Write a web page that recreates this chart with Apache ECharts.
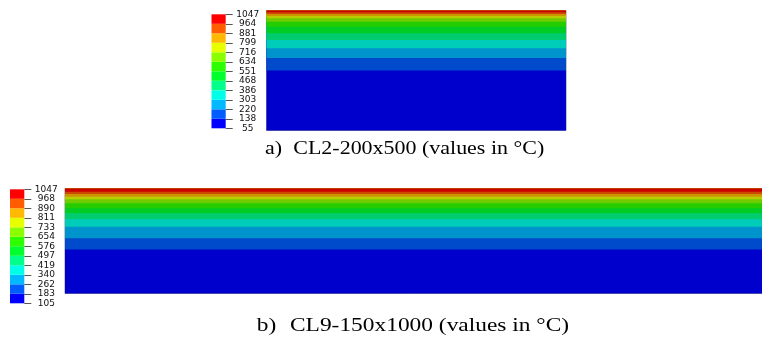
<!DOCTYPE html>
<html>
<head>
<meta charset="utf-8">
<style>
  html, body { margin: 0; padding: 0; background: #fff; }
  #chart { width: 762px; height: 340px; }
</style>
<script src="https://cdn.jsdelivr.net/npm/echarts@6/dist/echarts.min.js"></script>
</head>
<body>
<div id="chart"></div>
<script>
// Contour levels of the two sections (°C), listed from hottest to coolest
var levelsCL2 = ['1047', '964', '881', '799', '716', '634', '551', '468', '386', '303', '220', '138', '55'];
var levelsCL9 = ['1047', '968', '890', '811', '733', '654', '576', '497', '419', '340', '262', '183', '105'];

// Depth (mm, from the exposed top face) of the lower edge of each temperature band,
// hottest band first; the last band reaches the bottom of the section
var bandDepthCL2 = [3, 5.8, 9.2, 13, 18.7, 27, 38, 49, 63, 79, 100, 200];
var bandDepthCL9 = [4.6, 7.9, 11.7, 15.4, 21.1, 28.3, 35.4, 44, 54.6, 71.1, 87, 150];

// Section heights (mm)
var sectionHeight = { CL2: 200, CL9: 150 };

// Contour spectrum, hottest first: legend swatches and shaded plot faces
var legendColors = ['#ff0000', '#ff5d00', '#ffb900', '#e8ff00', '#8bff00', '#2eff00',
                    '#00ff2e', '#00ff8b', '#00ffe8', '#00b9ff', '#005dff', '#0000ff'];
var shadeColors  = ['#cc0000', '#cc4a00', '#cc9400', '#bacc00', '#6fcc00', '#25cc00',
                    '#00cc25', '#00cc6f', '#00ccba', '#0094cc', '#004acc', '#0000cc'];

var chart = echarts.init(document.getElementById('chart'), null, { renderer: 'canvas' });

var grids = [
  { left: 266.5, top: 10.5, width: 299.5, height: 120 },     // CL2 section
  { left: 211.5, top: 14.3, width: 14.2, height: 114 },      // CL2 legend
  { left: 65, top: 188.5, width: 700, height: 105 },         // CL9 section
  { left: 10, top: 189.3, width: 14.3, height: 114 }         // CL9 legend
];
grids.forEach(function (g, i) {
  g.containLabel = false;
  if (i % 2 === 0) {
    g.show = true;
    g.borderColor = '#8c8c9c';
    g.borderWidth = 1;
    g.backgroundColor = 'transparent';
  }
});

var xAxes = [], yAxes = [], series = [];

function addSection(gridIndex, depths, height) {
  xAxes.push({ gridIndex: gridIndex, type: 'category', data: ['section'], show: false });
  yAxes.push({ gridIndex: gridIndex, type: 'value', min: 0, max: height, inverse: true, show: false });
  var axisIdx = xAxes.length - 1;
  // coolest (deepest) band first so the hotter bands lie over it
  for (var k = depths.length - 1; k >= 0; k--) {
    series.push({
      type: 'bar',
      xAxisIndex: axisIdx,
      yAxisIndex: axisIdx,
      barWidth: '100%',
      barGap: '-100%',
      silent: true,
      itemStyle: { color: shadeColors[k] },
      data: [depths[k]]
    });
  }
}

function addLegend(gridIndex, labels) {
  var n = labels.length - 1;
  xAxes.push({ gridIndex: gridIndex, type: 'category', data: ['key'], show: false });
  yAxes.push({
    gridIndex: gridIndex, type: 'value', min: 0, max: n, interval: 1, position: 'right',
    axisLine: { show: false },
    splitLine: { show: false },
    axisTick: { show: true, length: 7, lineStyle: { color: '#555', width: 1 } },
    axisLabel: {
      margin: 22, align: 'center', color: '#111',
      fontFamily: 'DejaVu Sans', fontSize: 9,
      formatter: function (v) { return labels[n - v]; }
    }
  });
  var axisIdx = xAxes.length - 1;
  // swatches stacked from the coolest band at the bottom to the hottest at the top
  for (var k = n - 1; k >= 0; k--) {
    series.push({
      type: 'bar',
      xAxisIndex: axisIdx,
      yAxisIndex: axisIdx,
      stack: 'key' + gridIndex,
      barWidth: '100%',
      silent: true,
      itemStyle: { color: legendColors[k] },
      data: [1]
    });
  }
}

addSection(0, bandDepthCL2, sectionHeight.CL2);
addLegend(1, levelsCL2);
addSection(2, bandDepthCL9, sectionHeight.CL9);
addLegend(3, levelsCL9);

function caption(x, y, text, sx) {
  return {
    type: 'text', x: x, y: y, scaleX: sx, silent: true,
    style: {
      text: text, fill: '#000',
      font: '18px "Liberation Serif"',
      verticalAlign: 'middle', align: 'left'
    }
  };
}

chart.setOption({
  animation: false,
  backgroundColor: '#fff',
  grid: grids,
  xAxis: xAxes,
  yAxis: yAxes,
  series: series,
  graphic: [
    caption(265, 149, 'a)', 1.22),
    caption(293.3, 149, 'CL2-200x500 (values in °C)', 1.22),
    caption(256.7, 326.5, 'b)', 1.3),
    caption(290, 326.5, 'CL9-150x1000 (values in °C)', 1.3)
  ]
});
</script>
</body>
</html>
